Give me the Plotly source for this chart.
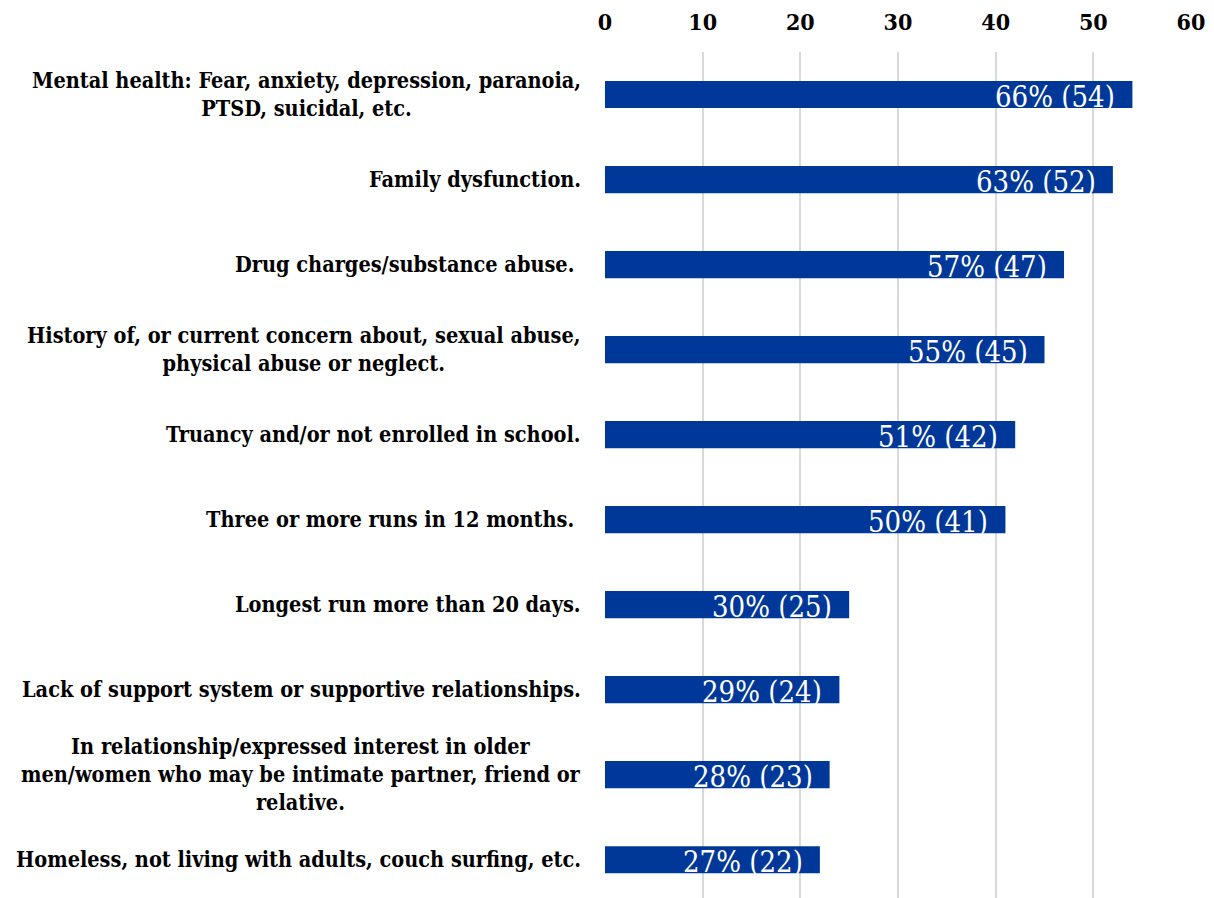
import plotly.graph_objects as go

# Risk factors, top to bottom
categories = [
    "Mental health: Fear, anxiety, depression, paranoia,<br>PTSD, suicidal, etc.",
    "Family dysfunction.",
    "Drug charges/substance abuse. ",
    "History of, or current concern about, sexual abuse,<br>physical abuse or neglect.",
    "Truancy and/or not enrolled in school.",
    "Three or more runs in 12 months. ",
    "Longest run more than 20 days.",
    "Lack of support system or supportive relationships.",
    "In relationship/expressed interest in older<br>men/women who may be intimate partner, friend or<br>relative.",
    "Homeless, not living with adults, couch surfing, etc.",
]
counts = [54, 52, 47, 45, 42, 41, 25, 24, 23, 22]
percents = [66, 63, 57, 55, 51, 50, 30, 29, 28, 27]
x_ticks = [0, 10, 20, 30, 40, 50, 60]

positions = list(range(len(categories)))
BAR = "#003899"
SERIF = "DejaVu Serif Condensed"

fig = go.Figure(
    go.Bar(
        x=counts,
        y=positions,
        orientation="h",
        marker=dict(color=BAR, line=dict(width=0)),
        width=0.32,
        hoverinfo="skip",
    )
)

# Category labels, centred line-by-line, right edge next to the axis
for pos, label in zip(positions, categories):
    fig.add_annotation(
        x=0, xref="paper", y=pos, yref="y",
        text=label, showarrow=False,
        xanchor="right", yanchor="middle", align="center",
        xshift=-22,
        font=dict(family=SERIF, size=21.5, color="#000000", weight="bold"),
    )

# Value labels inside the bar ends
for pos, c, p in zip(positions, counts, percents):
    fig.add_annotation(
        x=c, y=pos, xref="x", yref="y",
        text=f"{p}% ({c})", showarrow=False,
        xanchor="right", yanchor="middle",
        xshift=-15, yshift=-2,
        font=dict(family=SERIF, size=29, color="#ffffff"),
    )

fig.update_layout(
    width=1214, height=898,
    margin=dict(l=605, r=23, t=52, b=0),
    paper_bgcolor="white", plot_bgcolor="white",
    showlegend=False,
    xaxis=dict(
        side="top", range=[0, 60], tickvals=x_ticks,
        showgrid=True, gridcolor="#d9d9d9", gridwidth=2,
        zeroline=False, showline=False, ticks="",
        ticklabelstandoff=16,
        tickfont=dict(family=SERIF, size=23, color="#000000", weight="bold"),
        fixedrange=True,
    ),
    yaxis=dict(
        range=[9.45, -0.5], showticklabels=False, showgrid=False,
        zeroline=False, showline=False, ticks="", fixedrange=True,
    ),
)

fig.write_html("out.html")
